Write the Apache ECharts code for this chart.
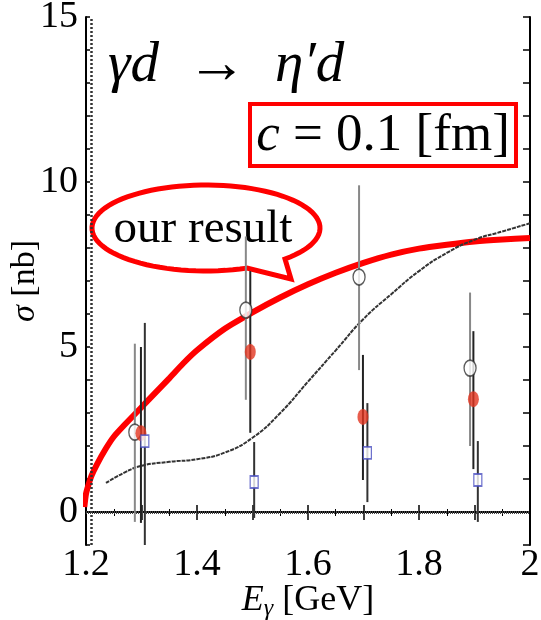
<!DOCTYPE html>
<html>
<head>
<meta charset="utf-8">
<script src="https://cdn.jsdelivr.net/npm/echarts@6/dist/echarts.min.js"></script>
<style>html,body{margin:0;padding:0;background:#fff}#chart{width:541px;height:620px}</style>
</head>
<body>
<div id="chart"></div>
<script>
var xTickLabelValues = [1.2, 1.4, 1.6, 1.8, 2.0];
var xTickLabels = ['1.2', '1.4', '1.6', '1.8', '2'];
var yTickLabelValues = [0, 5, 10, 15];

// our result (thick red curve)
var ourX = [1.197, 1.2, 1.205, 1.21, 1.22, 1.235, 1.25, 1.27, 1.29, 1.31, 1.33, 1.35, 1.375, 1.4, 1.45, 1.5, 1.55, 1.6, 1.65, 1.7, 1.75, 1.8, 1.85, 1.9, 1.95, 2.0];
var ourY = [0.15, 0.55, 0.85, 1.1, 1.45, 1.9, 2.28, 2.65, 3.0, 3.35, 3.7, 4.05, 4.5, 4.9, 5.55, 6.05, 6.5, 6.9, 7.25, 7.55, 7.8, 7.98, 8.1, 8.2, 8.26, 8.3];

// other model (thin black curve)
var modelX = [1.236, 1.27, 1.3, 1.35, 1.4, 1.45, 1.5, 1.55, 1.6, 1.65, 1.7, 1.75, 1.8, 1.85, 1.9, 1.95, 2.0];
var modelY = [0.88, 1.2, 1.4, 1.52, 1.6, 1.8, 2.25, 3.0, 3.95, 4.9, 5.85, 6.6, 7.3, 7.85, 8.25, 8.5, 8.75];

// data: open circles
var openX = [1.288, 1.488, 1.692, 1.892];
var openY = [2.42, 6.12, 7.12, 4.36];
var openLo = [-0.3, 3.4, 4.3, 2.0];
var openHi = [5.1, 8.35, 9.9, 6.65];

// data: filled red circles
var redX = [1.299, 1.496, 1.699, 1.898];
var redY = [2.39, 4.85, 2.88, 3.42];
var redLo = [-0.33, 2.4, 0.97, 1.3];
var redHi = [5.0, 7.3, 4.76, 5.48];

// data: blue open squares
var sqX = [1.306, 1.503, 1.707, 1.906];
var sqY = [2.15, 0.91, 1.79, 0.97];
var sqLo = [-1.0, -0.18, 0.3, -0.3];
var sqHi = [5.73, 2.12, 3.3, 2.15];

var serif = 'Liberation Serif';

function pairs(xs, ys) {
    return xs.map(function (x, i) { return [x, ys[i]]; });
}
function bars(xs, lo, hi) {
    return xs.map(function (x, i) { return [x, lo[i], hi[i]]; });
}
function errRender(color, width) {
    return function (params, api) {
        var a = api.coord([api.value(0), api.value(1)]);
        var b = api.coord([api.value(0), api.value(2)]);
        return {
            type: 'line',
            shape: { x1: a[0], y1: a[1], x2: b[0], y2: b[1] },
            style: { stroke: color, lineWidth: width }
        };
    };
}

// speech bubble outline: ellipse with a tail at the lower right
function bubblePoints(cx, cy, rx, ry, a1, a2, tip) {
    var pts = [];
    var n = 90;
    for (var k = 0; k <= n; k++) {
        var t = a1 + (a2 + Math.PI * 2 - a1) * k / n;
        pts.push([cx + rx * Math.cos(t), cy + ry * Math.sin(t)]);
    }
    pts.push(tip);
    return pts;
}

var myChart = echarts.init(document.getElementById('chart'));

var option = {
    animation: false,
    backgroundColor: '#fff',
    grid: { left: 86, right: 11, top: 17, bottom: 75, outerBoundsMode: 'none', containLabel: false },
    xAxis: [
        {
            type: 'value', min: 1.2, max: 2.0, interval: 0.1,
            axisLine: { lineStyle: { color: '#000', width: 2 } },
            axisTick: { inside: true, length: 7, lineStyle: { color: '#000', width: 1.5 } },
            minorTick: { show: true, splitNumber: 2, length: 3, lineStyle: { color: '#000' } },
            splitLine: { show: false },
            axisLabel: {
                customValues: xTickLabelValues,
                formatter: function (v) {
                    var i = xTickLabelValues.findIndex(function (t) { return Math.abs(t - v) < 1e-6; });
                    return i >= 0 ? xTickLabels[i] : '';
                },
                color: '#000', fontFamily: serif, fontSize: 38, margin: 1
            },
            name: '{i|E}{s|γ} [GeV]',
            nameLocation: 'middle', nameGap: 36, nameMoveOverlap: false,
            nameTextStyle: {
                color: '#000', fontFamily: serif, fontSize: 36,
                rich: {
                    i: { fontFamily: serif, fontSize: 36, fontStyle: 'italic', color: '#000' },
                    s: { fontFamily: serif, fontSize: 24, fontStyle: 'italic', color: '#000', padding: [16, 0, 0, 0] }
                }
            }
        },
        {
            type: 'value', position: 'top', min: 1.2, max: 2.0, interval: 0.1,
            axisLine: { lineStyle: { color: '#000', width: 2 } },
            axisTick: { inside: true, length: 8, lineStyle: { color: '#000', width: 1.5 } },
            minorTick: { show: true, splitNumber: 2, length: 4, lineStyle: { color: '#000' } },
            splitLine: { show: false },
            axisLabel: { show: false }
        }
    ],
    yAxis: [
        {
            type: 'value', min: -1, max: 15, interval: 1,
            axisLine: { lineStyle: { color: '#000', width: 2 } },
            axisTick: { inside: true, length: 4, lineStyle: { color: '#000', width: 1.5 } },
            splitLine: { show: false },
            axisLabel: {
                customValues: yTickLabelValues,
                color: '#000', fontFamily: serif, fontSize: 38, margin: 8
            },
            name: '{i|σ} [nb]',
            nameLocation: 'middle', nameGap: 44, nameRotate: 90, nameMoveOverlap: false,
            nameTextStyle: {
                color: '#000', fontFamily: serif, fontSize: 34,
                rich: { i: { fontFamily: serif, fontSize: 34, fontStyle: 'italic', color: '#000' } }
            }
        },
        {
            type: 'value', position: 'right', min: -1, max: 15, interval: 1,
            axisLine: { lineStyle: { color: '#000', width: 2 } },
            axisTick: { inside: true, length: 7, lineStyle: { color: '#000', width: 1.5 } },
            splitLine: { show: false },
            axisLabel: { show: false }
        }
    ],
    graphic: [
        {
            type: 'polygon', z: 1,
            shape: { points: bubblePoints(206, 228, 114, 43, 1.203, 0.805, [291, 279]) },
            style: { fill: '#fff', stroke: '#ff0000', lineWidth: 5 }
        },
        {
            type: 'text', z: 1,
            style: {
                text: 'our result', x: 203, y: 230, align: 'center', verticalAlign: 'middle',
                fontFamily: serif, fontSize: 47, fill: '#000'
            }
        },
        {
            type: 'text', z: 5,
            style: {
                text: '{m|γd}  {a|→}  {m|η′d}', x: 108, y: 66, align: 'left', verticalAlign: 'middle',
                fontFamily: serif, fontSize: 56, fill: '#000',
                rich: {
                    m: { fontFamily: serif, fontSize: 57, fontStyle: 'italic', fill: '#000' },
                    a: { fontFamily: serif, fontSize: 60, fill: '#000' }
                }
            }
        },
        {
            type: 'rect', z: 5,
            shape: { x: 250, y: 104, width: 266, height: 62 },
            style: { fill: '#fff', stroke: '#ff0000', lineWidth: 4 }
        },
        {
            type: 'text', z: 6,
            style: {
                text: '{i|c} = 0.1 [fm]', x: 383, y: 136, align: 'center', verticalAlign: 'middle',
                fontFamily: serif, fontSize: 53, fill: '#000',
                rich: { i: { fontFamily: serif, fontSize: 53, fontStyle: 'italic', fill: '#000' } }
            }
        }
    ],
    series: [
        {
            name: 'our result', type: 'line', smooth: 0.25, symbol: 'none', z: 3,
            data: pairs(ourX, ourY),
            lineStyle: { color: '#ff0000', width: 6 }
        },
        {
            name: 'model', type: 'line', smooth: true, symbol: 'none', z: 4,
            data: pairs(modelX, modelY),
            lineStyle: { color: '#333', width: 2, type: [4, 1] },
            markLine: {
                silent: true, symbol: 'none', label: { show: false },
                data: [
                    { yAxis: 0, lineStyle: { color: '#444', width: 3, type: [1, 1] } },
                    { xAxis: 1.211, lineStyle: { color: '#333', width: 2.5, type: [2, 2] } }
                ]
            }
        },
        {
            type: 'custom', z: 5, renderItem: errRender('#888', 2),
            encode: { x: 0, y: [1, 2] }, data: bars(openX, openLo, openHi)
        },
        {
            type: 'custom', z: 5, renderItem: errRender('#222', 2),
            encode: { x: 0, y: [1, 2] }, data: bars(redX, redLo, redHi)
        },
        {
            type: 'custom', z: 5, renderItem: errRender('#333', 2),
            encode: { x: 0, y: [1, 2] }, data: bars(sqX, sqLo, sqHi)
        },
        {
            type: 'scatter', z: 6, symbol: 'circle', symbolSize: [12, 16],
            data: pairs(openX, openY),
            itemStyle: { color: '#fff', borderColor: '#333', borderWidth: 1.5 }
        },
        {
            type: 'scatter', z: 7, symbol: 'circle', symbolSize: [11, 16],
            data: pairs(redX, redY),
            itemStyle: { color: '#e2341f' }
        },
        {
            type: 'scatter', z: 7, symbol: 'rect', symbolSize: [8, 12],
            data: pairs(sqX, sqY),
            itemStyle: { color: '#fff', borderColor: '#4a4fc0', borderWidth: 1.5 }
        }
    ]
};
myChart.setOption(option);
</script>
</body>
</html>
